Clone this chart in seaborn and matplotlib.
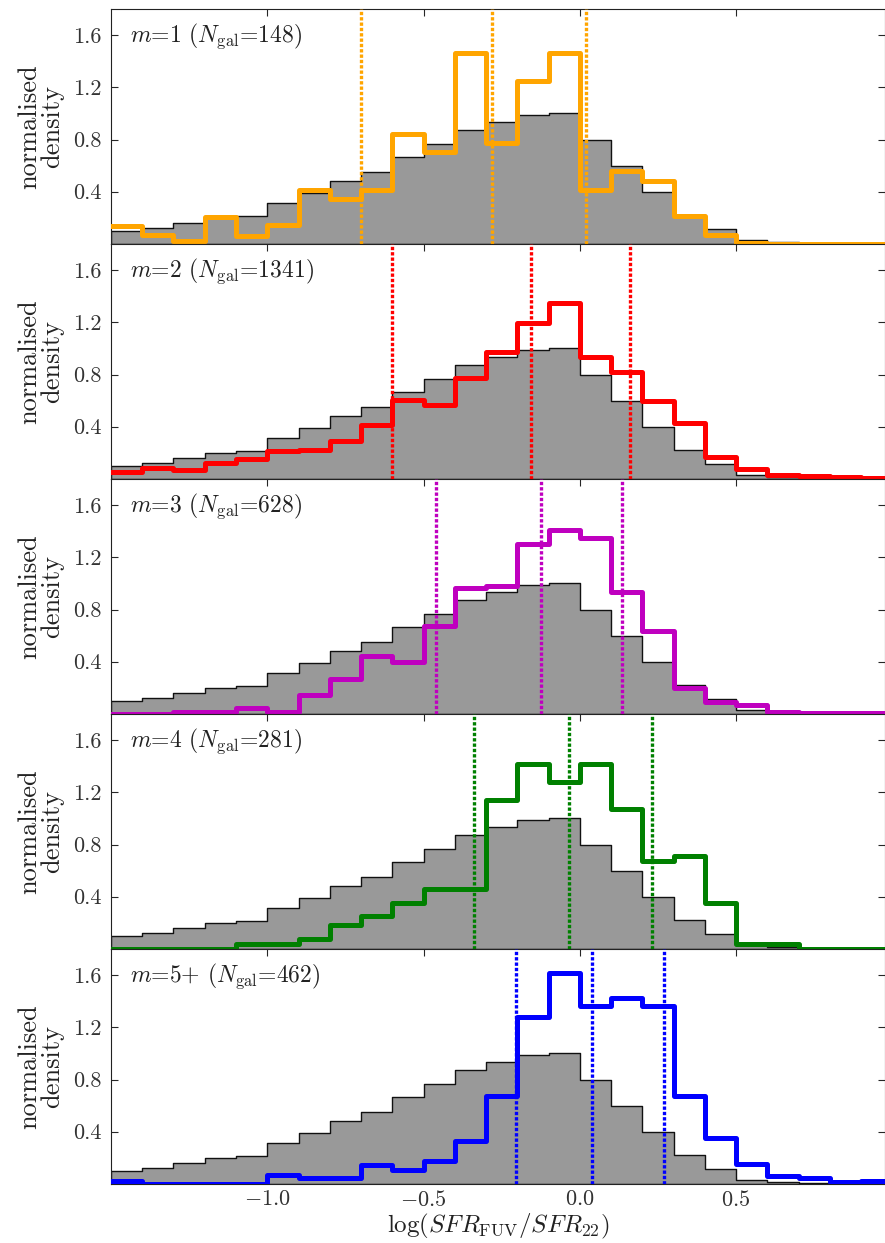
import numpy as np
import pandas as pd
import matplotlib
matplotlib.use("Agg")
import matplotlib.pyplot as plt
import seaborn as sns

# Bin edges of log(SFR_FUV / SFR_22), width 0.1 dex
bin_edges = [round(-1.5 + 0.1 * i, 2) for i in range(26)]
bin_centres = [round(e + 0.05, 3) for e in bin_edges[:-1]]

# Full-sample reference distribution (normalised to a peak of 1)
all_density = [0.10, 0.12, 0.16, 0.20, 0.215, 0.31, 0.39, 0.48, 0.55, 0.665,
               0.765, 0.87, 0.935, 0.985, 1.00, 0.80, 0.60, 0.40, 0.225, 0.115,
               0.03, 0.012, 0.004, 0.0, 0.0]

# Per-multiplicity distributions
m1_density = [0.14, 0.07, 0.02, 0.21, 0.06, 0.145, 0.415, 0.345, 0.415, 0.84,
              0.705, 1.465, 0.77, 1.25, 1.465, 0.415, 0.555, 0.48, 0.215, 0.065,
              0.01, 0.0, 0.0, 0.0, 0.0]
m2_density = [0.05, 0.085, 0.07, 0.125, 0.155, 0.215, 0.225, 0.29, 0.41, 0.605,
              0.565, 0.77, 0.97, 1.195, 1.35, 0.935, 0.82, 0.595, 0.425, 0.17,
              0.08, 0.027, 0.02, 0.012, 0.01]
m3_density = [0.0, 0.0, 0.018, 0.018, 0.048, 0.018, 0.145, 0.27, 0.445, 0.395,
              0.675, 0.965, 0.98, 1.30, 1.41, 1.35, 0.935, 0.635, 0.195, 0.095,
              0.07, 0.018, 0.005, 0.005, 0.005]
m4_density = [0.0, 0.0, 0.0, 0.0, 0.035, 0.035, 0.08, 0.185, 0.25, 0.355,
              0.46, 0.46, 1.14, 1.42, 1.28, 1.42, 1.07, 0.675, 0.71, 0.355,
              0.035, 0.035, 0.0, 0.0, 0.0]
m5_density = [0.02, 0.0, 0.0, 0.0, 0.0, 0.07, 0.045, 0.045, 0.148, 0.107,
              0.178, 0.33, 0.674, 1.277, 1.616, 1.366, 1.425, 1.366, 0.674, 0.351,
              0.153, 0.064, 0.046, 0.013, 0.023]

# 16th / 50th / 84th percentiles of each subsample
m1_pct = [-0.70, -0.28, 0.02]
m2_pct = [-0.60, -0.155, 0.16]
m3_pct = [-0.46, -0.125, 0.135]
m4_pct = [-0.34, -0.035, 0.23]
m5_pct = [-0.205, 0.04, 0.27]

m_labels = ["1", "2", "3", "4", "5+"]
n_gal = [148, 1341, 628, 281, 462]
colours = ["#FFA500", "#FF0000", "#BF00BF", "#008000", "#0000FF"]

densities = [m1_density, m2_density, m3_density, m4_density, m5_density]
percentiles = [m1_pct, m2_pct, m3_pct, m4_pct, m5_pct]

sns.set_style("ticks")
plt.rcParams["font.family"] = ["cmr10", "DejaVu Serif"]
plt.rcParams["mathtext.fontset"] = "cm"
plt.rcParams["axes.formatter.use_mathtext"] = True
plt.rcParams["axes.unicode_minus"] = True

fig, axes = plt.subplots(5, 1, sharex=True, figsize=(8.85, 12.43), dpi=100,
                         gridspec_kw=dict(hspace=0))
fig.subplots_adjust(left=0.1254, right=0.9995, top=0.9928, bottom=0.0475)

all_df = pd.DataFrame({"x": bin_centres, "w": all_density})

for ax, dens, pct, m, n, col in zip(axes, densities, percentiles,
                                     m_labels, n_gal, colours):
    sub_df = pd.DataFrame({"x": bin_centres, "w": dens})
    sns.histplot(data=all_df, x="x", weights="w", bins=bin_edges,
                 element="step", fill=True, color="#999999", alpha=1.0,
                 edgecolor="#111111", linewidth=1.0, ax=ax, zorder=1)
    sns.histplot(data=sub_df, x="x", weights="w", bins=bin_edges,
                 element="step", fill=False, color=col, linewidth=3.6,
                 ax=ax, zorder=3)
    for p in pct:
        ax.axvline(p, color=col, linestyle=(0, (1.0, 0.6)), linewidth=2.4,
                   zorder=4)

    ax.text(0.025, 0.885, rf"$m$={m} ($N_{{\rm gal}}$={n})",
            transform=ax.transAxes, fontsize=17, va="center", ha="left",
            color="#222222")

    ax.set_ylim(0, 1.8)
    ax.set_yticks([0.4, 0.8, 1.2, 1.6])
    ax.set_yticklabels(["0.4", "0.8", "1.2", "1.6"])
    ax.set_ylabel("normalised\ndensity", fontsize=19, linespacing=1.0,
                  labelpad=6, color="#222222")
    ax.set_xlabel("")
    ax.tick_params(direction="in", top=True, right=True, length=5,
                   width=0.8, labelsize=16, pad=7, labelcolor="#333333")
    for sp in ax.spines.values():
        sp.set_linewidth(0.8)
        sp.set_color("#222222")

axes[-1].set_xlim(-1.5, 0.975)
axes[-1].set_xticks([-1.0, -0.5, 0.0, 0.5])
axes[-1].set_xticklabels([r"$-1.0$", r"$-0.5$", r"$0.0$", r"$0.5$"])
axes[-1].tick_params(axis="x", pad=4)
axes[-1].set_xlabel(r"log($SFR_{\rm FUV}/SFR_{22}$)", fontsize=18,
                    labelpad=1.5, color="#222222")

fig.savefig("out.png", dpi=100)
